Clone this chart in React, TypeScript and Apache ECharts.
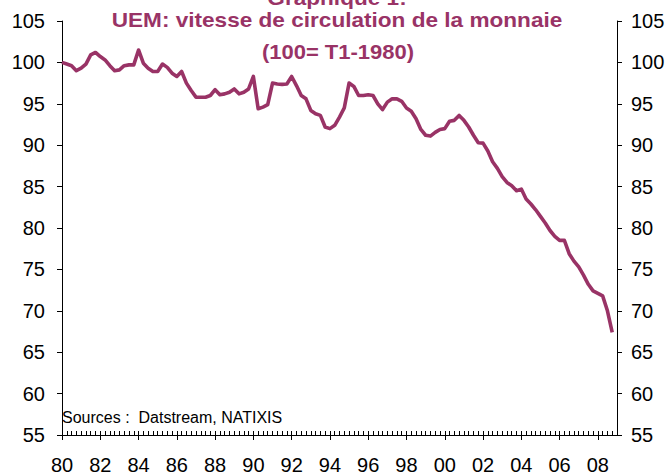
import React, { useEffect, useRef } from "react";
import * as echarts from "echarts";

// Quarterly index (100 = T1-1980), 1980T1 .. 2008T4
const velocity: number[] = [
  100.0, 99.8, 99.6, 99.0, 99.3, 99.8, 100.9, 101.2, // 80-81
  100.7, 100.3, 99.6, 99.0, 99.1, 99.6, 99.7, 99.7, // 82-83
  101.5, 99.9, 99.3, 98.9, 98.9, 99.8, 99.4, 98.7, // 84-85
  98.3, 98.9, 97.5, 96.6, 95.8, 95.8, 95.8, 96.0, // 86-87
  96.7, 96.1, 96.2, 96.4, 96.8, 96.2, 96.4, 96.8, // 88-89
  98.3, 94.4, 94.6, 94.9, 97.5, 97.4, 97.35, 97.4, // 90-91
  98.3, 97.2, 96.0, 95.6, 94.2, 93.8, 93.6, 92.2, // 92-93
  92.0, 92.4, 93.4, 94.5, 97.5, 97.1, 96.0, 96.0, // 94-95
  96.1, 96.0, 95.0, 94.3, 95.2, 95.6, 95.6, 95.3, // 96-97
  94.5, 94.1, 93.2, 91.9, 91.2, 91.1, 91.55, 91.9, // 98-99
  92.0, 92.9, 93.0, 93.6, 93.0, 92.2, 91.2, 90.3, // 00-01
  90.25, 89.3, 88.0, 87.2, 86.2, 85.5, 85.1, 84.5, // 02-03
  84.7, 83.5, 82.9, 82.2, 81.4, 80.6, 79.7, 79.0, // 04-05
  78.5, 78.5, 76.9, 76.0, 75.3, 74.3, 73.2, 72.4, // 06-07
  72.1, 71.8, 70.0, 67.4, // 08
];

const firstYear = 1980;
const quarterCount = 117; // 1980T1 .. 2009T1 (axis extent)
const tickLabels: string[] = ["80", "82", "84", "86", "88", "90", "92", "94", "96", "98", "00", "02", "04", "06", "08"];

const categories: string[] = [];
for (let i = 0; i < quarterCount; i++) {
  categories.push(`${firstYear + Math.floor(i / 4)}T${(i % 4) + 1}`);
}

const titleLine1 = "UEM: vitesse de circulation de la monnaie";
const titleLine2 = "(100= T1-1980)";
const topTitle = "Graphique 1:";
const sourceText = "Sources :  Datstream, NATIXIS";

const FONT = "'Liberation Sans', Arial, sans-serif";
const LINE_COLOR = "#993366";

export default function App() {
  const ref = useRef<HTMLDivElement>(null);
  useEffect(() => {
    if (!ref.current) return;
    const chart = echarts.init(ref.current, undefined, { renderer: "svg" });
    const yAxisCommon = {
      type: "value" as const,
      min: 55,
      max: 105,
      interval: 5,
      axisLine: { show: true, lineStyle: { color: "#000", width: 1 } },
      axisTick: { show: true, length: 5, lineStyle: { color: "#000" } },
      splitLine: { show: false },
    };
    const isMajor = (i: number) => i % 8 === 0;
    chart.setOption({
      animation: false,
      backgroundColor: "#fff",
      grid: { left: 62, right: 52, top: 21, bottom: 41, containLabel: false },
      xAxis: [
        {
          type: "category",
          data: categories,
          boundaryGap: false,
          position: "bottom",
          axisLine: { show: true, onZero: false, lineStyle: { color: "#000", width: 1 } },
          axisTick: { show: true, inside: true, length: 4, interval: 0, lineStyle: { color: "#000" } },
          axisLabel: { show: false },
          splitLine: { show: false },
        },
        {
          type: "category",
          data: categories,
          boundaryGap: false,
          position: "bottom",
          axisLine: { show: false, onZero: false },
          axisTick: { show: true, inside: false, length: 5, interval: (i: number) => isMajor(i), lineStyle: { color: "#000" } },
          axisLabel: {
            show: true,
            interval: (i: number) => isMajor(i),
            formatter: (_v: string, i: number) => tickLabels[i / 8] ?? "",
            fontSize: 20,
            color: "#000",
            fontFamily: FONT,
            margin: 20,
          },
          splitLine: { show: false },
        },
      ],
      yAxis: [
        {
          ...yAxisCommon,
          position: "left",
          axisLabel: { fontSize: 20, color: "#000", fontFamily: FONT, margin: 17 },
        },
        {
          ...yAxisCommon,
          position: "right",
          axisLabel: { fontSize: 20, color: "#000", fontFamily: FONT, margin: 14 },
        },
      ],
      series: [
        {
          type: "line",
          data: velocity,
          xAxisIndex: 0,
          yAxisIndex: 0,
          showSymbol: false,
          symbol: "none",
          lineStyle: { color: LINE_COLOR, width: 3.6, join: "round" },
        },
      ],
      graphic: [
        {
          type: "text",
          x: 337,
          y: 8,
          scaleX: 1.13,
          style: {
            text: topTitle,
            font: `bold 20px ${FONT}`,
            fill: LINE_COLOR,
            textAlign: "center",
            textVerticalAlign: "bottom",
          },
        },
        {
          type: "text",
          x: 337,
          y: 20,
          scaleX: 1.13,
          style: {
            text: titleLine1,
            font: `bold 20px ${FONT}`,
            fill: LINE_COLOR,
            textAlign: "center",
            textVerticalAlign: "middle",
          },
        },
        {
          type: "text",
          x: 338,
          y: 52,
          scaleX: 1.1,
          style: {
            text: titleLine2,
            font: `bold 20px ${FONT}`,
            fill: LINE_COLOR,
            textAlign: "center",
            textVerticalAlign: "middle",
          },
        },
        {
          type: "text",
          x: 62,
          y: 417,
          style: {
            text: sourceText,
            font: `16px ${FONT}`,
            fill: "#000",
            textAlign: "left",
            textVerticalAlign: "middle",
          },
        },
      ],
    });
    return () => chart.dispose();
  }, []);
  return (
    <div
      ref={ref}
      style={{ position: "fixed", left: 0, top: 0, width: 669, height: 476, background: "#fff" }}
    />
  );
}
